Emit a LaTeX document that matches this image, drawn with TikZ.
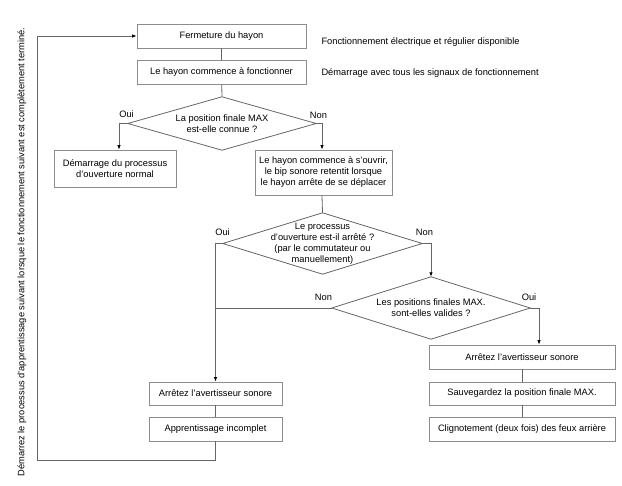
\documentclass[tikz,border=0pt]{standalone}
\usepackage{fontspec}
\setmainfont{Liberation Sans}
\usepackage{tikz}
\usetikzlibrary{arrows.meta}

\begin{document}
\begin{tikzpicture}[x=1pt,y=-1pt,
  font=\fontsize{9.3}{11}\selectfont,
  box/.style={draw=gray!90,line width=0.8pt,inner sep=0pt,align=center},
  query/.style={inner sep=0pt,align=center},
  line/.style={draw=black!60,line width=0.8pt},
  arr/.style={line,-{Latex[length=4.5pt,width=3.5pt,color=black]}}]
  \useasboundingbox (0,0) rectangle (622,486);
  % main column
  \node[box,minimum width=169,minimum height=24] (close) at (221.5,36) {Fermeture du hayon};
  \node[box,minimum width=169,minimum height=24] (start) at (221.5,72) {Le hayon commence à fonctionner};
  \node[anchor=west] (note1) at (318,42) {Fonctionnement électrique et régulier disponible};
  \node[anchor=west] (note2) at (318,73) {Démarrage avec tous les signaux de fonctionnement};
  % first question
  \node[query,minimum width=188,minimum height=53] (known) at (222,123.5) {La position finale MAX\\est-elle connue ?};
  \draw[line] (known.north) -- (known.east) -- (known.south) -- (known.west) -- cycle;
  \node[box,minimum width=122,minimum height=37] (normal) at (115,168.5) {Démarrage du processus\\d'ouverture normal};
  \node[box,minimum width=137,minimum height=45] (open) at (323.5,172.5) {Le hayon commence à s'ouvrir,\\le bip sonore retentit lorsque\\le hayon arrête de se déplacer};
  % second question
  \node[query,minimum width=199,minimum height=61] (stopped) at (322.5,243.5) {Le processus\\d'ouverture est-il arrêté ?\\(par le commutateur ou\\manuellement)};
  \draw[line] (stopped.north) -- (stopped.east) -- (stopped.south) -- (stopped.west) -- cycle;
  % third question
  \node[query,minimum width=198,minimum height=62] (valid) at (431,308) {Les positions finales MAX.\\sont-elles valides ?};
  \draw[line] (valid.north) -- (valid.east) -- (valid.south) -- (valid.west) -- cycle;
  % right column
  \node[box,minimum width=186,minimum height=24] (stopR) at (522,357) {Arrêtez l'avertisseur sonore};
  \node[box,minimum width=186,minimum height=23] (save) at (522,393.5) {Sauvegardez la position finale MAX.};
  \node[box,minimum width=186,minimum height=24] (blink) at (522,429) {Clignotement (deux fois) des feux arrière};
  % left column
  \node[box,minimum width=133,minimum height=23] (stopL) at (215.5,393.5) {Arrêtez l'avertisseur sonore};
  \node[box,minimum width=133,minimum height=24] (fail) at (215.5,429) {Apprentissage incomplet};
  % labels
  \node (yes1) at (126.5,114) {Oui};
  \node (no1) at (318.5,115) {Non};
  \node (yes2) at (222.5,232) {Oui};
  \node (no2) at (424.5,232) {Non};
  \node (no3) at (323.5,297) {Non};
  \node (yes3) at (529,297) {Oui};
  \node[rotate=90] (restart) at (22,252) {Démarrez le processus d'apprentissage suivant lorsque le fonctionnement suivant est complètement terminé.};
  \coordinate (loop) at (37,460);
  % connectors
  \draw[line] (close) -- (start);
  \draw[line] (start) -- (known.north);
  \draw[arr] (known.west) -| ([xshift=4pt]normal.north);
  \draw[arr] (known.east) -| ([xshift=-1.5pt]open.north);
  \draw[line] ([xshift=-1.5pt]open.south) -- (stopped.north);
  \draw[arr] (stopped.east) -| (valid.north);
  \draw[arr] (stopped.west) -| (stopL.north);
  \draw[line] (valid.west) -- (valid.west -| stopL.north);
  \draw[arr] (valid.east) -| ([xshift=17pt]stopR.north);
  \draw[line] (stopR) -- (save);
  \draw[line] (save) -- (blink);
  \draw[line] (stopL) -- (fail);
  \draw[arr] (fail.south) |- (loop) |- (close.west);
\end{tikzpicture}
\end{document}
